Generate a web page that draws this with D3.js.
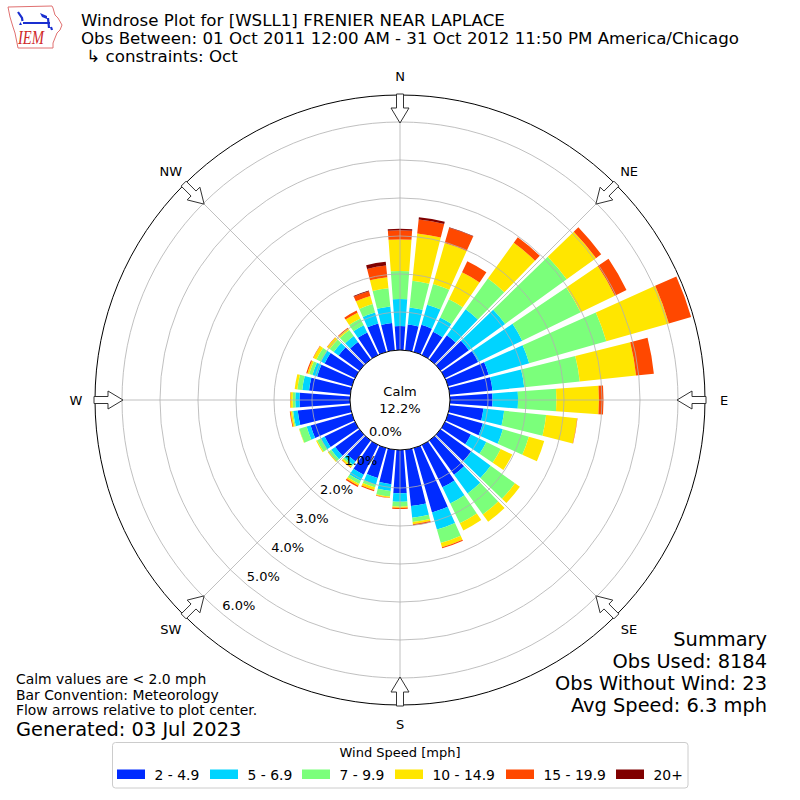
<!DOCTYPE html>
<html>
<head>
<meta charset="utf-8">
<title>Windrose Plot</title>
<script src="https://d3js.org/d3.v7.min.js"></script>
<style>
  body { margin: 0; background: #fff; }
  svg { display: block; font-family: "DejaVu Sans", sans-serif; }
</style>
</head>
<body>
<svg width="800" height="800"></svg>
<script>
  // wind direction (deg, meteorological) for each bar
  var directions = [0, 10, 20, 30, 40, 50, 60, 70, 80, 90, 100, 110,
                    120, 130, 140, 150, 160, 170, 180, 190, 200, 210, 220, 230,
                    240, 250, 260, 270, 280, 290, 300, 310, 320, 330, 340, 350];

  // frequency (%) per speed bin, one value per direction
  var speed2 = [0.63, 0.68, 0.74, 0.68, 0.79, 0.92, 0.97, 1.11, 1.13, 1.12, 0.89, 0.95,
                0.76, 1.00, 1.11, 1.24, 1.76, 1.49, 1.14, 0.91, 0.82, 0.87, 0.68, 0.79,
                0.89, 1.13, 1.39, 1.33, 1.09, 0.95, 0.89, 0.68, 0.57, 0.66, 0.78, 0.72];
  var speed5 = [0.71, 0.45, 0.55, 0.42, 0.84, 1.18, 1.29, 1.11, 0.84, 0.67, 0.55, 0.55,
                0.45, 0.63, 0.61, 0.47, 0.47, 0.31, 0.22, 0.18, 0.18, 0.18, 0.11, 0.13,
                0.11, 0.11, 0.12, 0.11, 0.18, 0.13, 0.11, 0.16, 0.19, 0.21, 0.30, 0.44];
  var speed7 = [0.74, 0.71, 0.57, 0.53, 1.00, 2.00, 1.71, 2.11, 1.47, 1.01, 1.11, 0.71,
                0.42, 0.79, 0.68, 0.58, 0.37, 0.11, 0.13, 0.15, 0.08, 0.09, 0.05, 0.08,
                0.11, 0.20, 0.03, 0.07, 0.13, 0.09, 0.13, 0.13, 0.20, 0.20, 0.23, 0.48];
  var speed10 = [0.83, 1.25, 1.12, 0.79, 1.16, 0.95, 1.00, 1.71, 1.49, 1.12, 0.82, 0.42,
                 0.34, 0.16, 0.24, 0.21, 0.11, 0.06, 0.03, 0.03, 0.07, 0.05, 0.04, 0.03,
                 0.03, 0.01, 0.04, 0.06, 0.07, 0.05, 0.09, 0.08, 0.05, 0.17, 0.22, 0.29];
  var speed15 = [0.24, 0.37, 0.42, 0.32, 0.18, 0.17, 0.34, 0.61, 0.47, 0.12, 0.01, 0,
                 0, 0, 0, 0, 0.03, 0.03, 0.03, 0.01, 0.03, 0.04, 0.01, 0,
                 0, 0, 0.02, 0.01, 0, 0.03, 0.01, 0.01, 0.02, 0.06, 0.13, 0.31];
  var speed20 = [0.04, 0.06, 0.01, 0, 0, 0, 0, 0, 0, 0, 0, 0,
                 0, 0, 0, 0, 0, 0, 0, 0, 0, 0, 0, 0,
                 0, 0, 0, 0, 0, 0, 0, 0, 0, 0, 0.02, 0.10];

  var binLabels = ["2 - 4.9", "5 - 6.9", "7 - 9.9", "10 - 14.9", "15 - 19.9", "20+"];
  var ringTicks = [0, 1, 2, 3, 4, 5, 6];
  var compassNames = ["N", "NE", "E", "SE", "S", "SW", "W", "NW"];
  var compassDirs = [0, 45, 90, 135, 180, 225, 270, 315];
  var calmPct = 12.2;

  var colors = ["#002bff", "#00d4ff", "#7bff7b", "#ffe600", "#ff4800", "#800000"];

  var svg = d3.select("svg"),
      cx = 400, cy = 400;

  var keys = ["b0", "b1", "b2", "b3", "b4", "b5"];
  var series = [speed2, speed5, speed7, speed10, speed15, speed20];
  var table = directions.map(function(d, i) {
    var row = {dir: d};
    keys.forEach(function(k, j) { row[k] = series[j][i]; });
    return row;
  });
  var stacked = d3.stack().keys(keys)(table);

  // radius: 0% sits on the calm circle
  var r = d3.scaleLinear().domain([0, 6.71]).range([50, 305]);
  var ang = d3.scaleLinear().domain([0, 360]).range([0, 2 * Math.PI]);

  var plot = svg.append("g").attr("transform", "translate(" + cx + "," + cy + ")");

  var arc = d3.arc()
      .innerRadius(function(d) { return r(d[0]); })
      .outerRadius(function(d) { return r(d[1]); })
      .startAngle(function(d) { return ang(d.data.dir - 4.1); })
      .endAngle(function(d) { return ang(d.data.dir + 4.1); });

  // bars
  plot.selectAll("g.bin")
    .data(stacked)
    .enter().append("g")
      .attr("class", "bin")
      .attr("fill", function(d, i) { return colors[i]; })
    .selectAll("path")
    .data(function(d) { return d.filter(function(s) { return s[1] - s[0] > 0; }); })
    .enter().append("path")
      .attr("d", arc);

  // grid on top of bars
  plot.selectAll("circle.ring")
    .data(ringTicks.slice(1))
    .enter().append("circle")
      .attr("class", "ring")
      .attr("r", function(d) { return r(d); })
      .attr("fill", "none")
      .attr("stroke", "#b0b0b0")
      .attr("stroke-width", 0.8);

  plot.selectAll("line.spoke")
    .data(compassDirs)
    .enter().append("line")
      .attr("class", "spoke")
      .attr("x1", 0).attr("y1", 0)
      .attr("x2", function(d) { return r(6.71) * Math.sin(ang(d)); })
      .attr("y2", function(d) { return -r(6.71) * Math.cos(ang(d)); })
      .attr("stroke", "#b0b0b0")
      .attr("stroke-width", 0.8);

  plot.append("circle")
    .attr("r", r(6.71))
    .attr("fill", "none")
    .attr("stroke", "#000")
    .attr("stroke-width", 1);

  // calm circle
  plot.append("circle")
    .attr("r", r(0))
    .attr("fill", "#fff")
    .attr("stroke", "#000")
    .attr("stroke-width", 1);

  plot.append("text")
    .attr("x", 0).attr("y", -4)
    .attr("text-anchor", "middle")
    .style("font-size", "13px")
    .text("Calm");
  plot.append("text")
    .attr("x", 0).attr("y", 13)
    .attr("text-anchor", "middle")
    .style("font-size", "13px")
    .text(calmPct.toFixed(1) + "%");

  // radial tick labels along 220 deg
  plot.selectAll("text.rlabel")
    .data(ringTicks)
    .enter().append("text")
      .attr("class", "rlabel")
      .attr("x", function(d) { return r(d) * Math.sin(ang(220)) + 1; })
      .attr("y", function(d) { return -r(d) * Math.cos(ang(220)) - 2.5; })
      .style("font-size", "13px")
      .text(function(d) { return d.toFixed(1) + "%"; });

  // flow arrows pointing to the center
  function arrowPoints(deg) {
    var t = ang(deg), s = Math.sin(t), c = Math.cos(t);
    var pts = [[0, 277], [-9, 292], [-3.5, 292], [-3.5, 306], [3.5, 306], [3.5, 292], [9, 292]];
    return pts.map(function(p) {
      return [p[1] * s + p[0] * c, -p[1] * c + p[0] * s].join(",");
    }).join(" ");
  }
  plot.selectAll("polygon.arrow")
    .data(compassDirs)
    .enter().append("polygon")
      .attr("class", "arrow")
      .attr("points", arrowPoints)
      .attr("fill", "#fff")
      .attr("stroke", "#333")
      .attr("stroke-width", 1);

  // compass labels
  plot.selectAll("text.compass")
    .data(compassDirs)
    .enter().append("text")
      .attr("class", "compass")
      .attr("x", function(d) { return 324 * Math.sin(ang(d)); })
      .attr("y", function(d) { return -324 * Math.cos(ang(d)); })
      .attr("dy", "0.36em")
      .attr("text-anchor", "middle")
      .style("font-size", "13px")
      .text(function(d, i) { return compassNames[i]; });

  // titles
  var titles = ["Windrose Plot for [WSLL1] FRENIER NEAR LAPLACE",
                "Obs Between: 01 Oct 2011 12:00 AM - 31 Oct 2012 11:50 PM America/Chicago",
                " \u21b3 constraints: Oct"];
  svg.selectAll("text.title")
    .data(titles)
    .enter().append("text")
      .attr("class", "title")
      .attr("x", 81)
      .attr("y", function(d, i) { return 26 + i * 18; })
      .attr("xml:space", "preserve")
      .style("font-size", "16.67px")
      .style("white-space", "pre")
      .text(function(d) { return d; });

  // IEM logo
  var logo = svg.append("g");
  logo.append("path")
    .attr("d", "M8,7 L52,6 L53,8 L55,15 L58,18 L62,25 L60,30 L57,33 L55,38 L53,43 L53,48 L18,48 L17,43 L15,33 L13,27 L10,17 Z")
    .attr("fill", "#fff")
    .attr("stroke", "#e07070")
    .attr("stroke-width", 1);
  logo.append("path")
    .attr("d", "M18,12 L22,18 L22.5,21 M23,23 L50,23 M48,18 L49,28 M51,27 L52,30")
    .attr("fill", "none")
    .attr("stroke", "#1a2fd0")
    .attr("stroke-width", 2.2);
  logo.append("path")
    .attr("d", "M40,13 L47,16 L47,19 L42,17 Z")
    .attr("fill", "#1a2fd0");
  logo.append("path")
    .attr("d", "M19,25 L20.5,22 L22,25 Z")
    .attr("fill", "#1a2fd0");
  logo.append("text")
    .attr("x", 18).attr("y", 43.5)
    .attr("textLength", 26)
    .attr("lengthAdjust", "spacingAndGlyphs")
    .style("font-family", "'Liberation Serif', serif")
    .style("font-style", "italic")
    .style("font-size", "18px")
    .attr("fill", "#d02828")
    .text("IEM");

  // notes bottom left
  var notes = ["Calm values are < 2.0 mph", "Bar Convention: Meteorology",
               "Flow arrows relative to plot center."];
  svg.selectAll("text.note")
    .data(notes)
    .enter().append("text")
      .attr("class", "note")
      .attr("x", 16)
      .attr("y", function(d, i) { return 684 + i * 15.5; })
      .style("font-size", "13.9px")
      .text(function(d) { return d; });
  svg.append("text")
    .attr("x", 16).attr("y", 736)
    .style("font-size", "19.4px")
    .text("Generated: 03 Jul 2023");

  // summary bottom right
  var summary = ["Summary", "Obs Used: 8184", "Obs Without Wind: 23", "Avg Speed: 6.3 mph"];
  svg.selectAll("text.summary")
    .data(summary)
    .enter().append("text")
      .attr("class", "summary")
      .attr("x", 767)
      .attr("y", function(d, i) { return 646 + i * 22; })
      .attr("text-anchor", "end")
      .style("font-size", "19.4px")
      .text(function(d) { return d; });

  // legend
  var legend = svg.append("g");
  legend.append("rect")
    .attr("x", 112.5).attr("y", 742.5)
    .attr("width", 575.5).attr("height", 45.5)
    .attr("rx", 3)
    .attr("fill", "#fff")
    .attr("stroke", "#cccccc");
  legend.append("text")
    .attr("x", 400).attr("y", 757)
    .attr("text-anchor", "middle")
    .style("font-size", "13px")
    .text("Wind Speed [mph]");
  var legendX = [117, 210, 302, 395, 506, 616];
  var item = legend.selectAll("g.item")
    .data(binLabels)
    .enter().append("g")
      .attr("class", "item")
      .attr("transform", function(d, i) { return "translate(" + legendX[i] + ",769.5)"; });
  item.append("rect")
    .attr("width", 28).attr("height", 9.5)
    .attr("fill", function(d, i) { return colors[i]; });
  item.append("text")
    .attr("x", 37.5).attr("y", 10)
    .style("font-size", "13.9px")
    .text(function(d) { return d; });
</script>
</body>
</html>
